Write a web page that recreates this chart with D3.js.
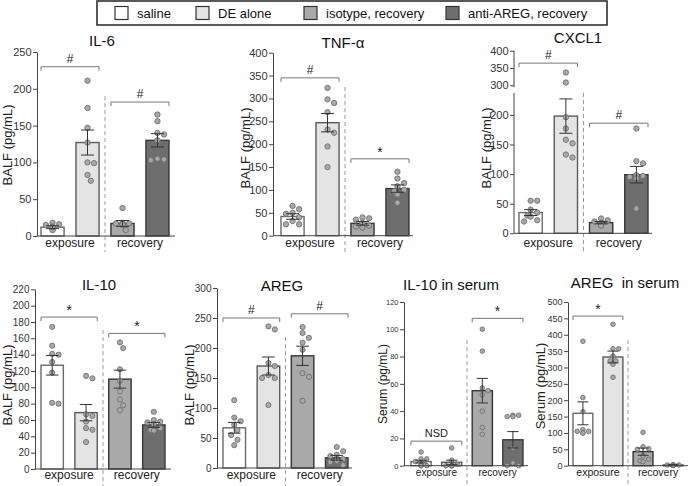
<!DOCTYPE html>
<html><head><meta charset="utf-8">
<script src="https://cdn.jsdelivr.net/npm/d3@7"></script>
<style>body{margin:0;background:#fff;} svg{display:block;font-family:"Liberation Sans",Arial,sans-serif;}</style>
</head><body><svg id="c" width="690" height="486"></svg>
<script>
// ---------- DATA ----------
const groups = ["saline", "DE alone", "isotype, recovery", "anti-AREG, recovery"];
const periods = ["exposure", "recovery"];

const il6Ticks = [0, 50, 100, 150, 200, 250];
const il6Means = [12, 127, 17, 130];
const il6Sems = [2, 17, 4, 9];
const il6Points = [[18, 15, 13, 11, 9, 8, 12, 16], [211, 174, 147, 127, 100, 99, 83, 75], [38, 18, 17, 16, 15, 8, 17, 16], [165, 156, 140, 138, 130, 104, 105, 103]];
const il6Sig = [{a: 0, b: 1, v: 230, t: "#"}, {a: 2, b: 3, v: 182, t: "#"}];

const tnfTicks = [0, 50, 100, 150, 200, 250, 300, 350, 400];
const tnfMeans = [42, 247, 27, 103];
const tnfSems = [6, 20, 4, 8];
const tnfPoints = [[65, 58, 50, 48, 40, 32, 25, 25], [323, 298, 290, 270, 232, 225, 195, 150], [40, 38, 35, 28, 22, 20, 18, 18], [140, 125, 115, 108, 100, 97, 90, 72]];
const tnfSig = [{a: 0, b: 1, v: 345, t: "#"}, {a: 2, b: 3, v: 168, t: "*"}];

const cxclTicks = [0, 50, 100, 150, 200, 300, 350, 400];
const cxclMeans = [35, 198, 18, 99];
const cxclSems = [5, 29, 2, 14];
const cxclPoints = [[55, 55, 40, 35, 30, 28, 20, 22], [337, 308, 196, 177, 158, 152, 133, 128], [25, 22, 20, 18, 17, 16, 15, 13], [177, 122, 118, 98, 97, 95, 93, 42]];
const cxclSig = [{a: 0, b: 1, v: 364, t: "#"}, {a: 2, b: 3, v: 186, t: "#"}];

const il10Ticks = [0, 20, 40, 60, 80, 100, 120, 140, 160, 180, 200, 220];
const il10Means = [127, 69, 110, 54];
const il10Sems = [12, 10, 11, 3];
const il10Points = [[174, 151, 140, 141, 131, 118, 80, 81], [114, 111, 67, 65, 58, 50, 48, 33], [155, 148, 122, 108, 95, 85, 78, 72], [70, 60, 58, 57, 55, 50, 48, 47]];
const il10Sig = [{a: 0, b: 1, v: 186, t: "*"}, {a: 2, b: 3, v: 166, t: "*"}];

const aregTicks = [0, 50, 100, 150, 200, 250, 300];
const aregMeans = [67, 170, 187, 17];
const aregSems = [9, 15, 16, 4];
const aregPoints = [[113, 84, 78, 72, 63, 55, 47, 38], [236, 231, 175, 170, 155, 150, 150, 105], [235, 225, 217, 209, 197, 158, 152, 112], [35, 28, 22, 20, 15, 12, 10, 5]];
const aregSig = [{a: 0, b: 1, v: 250, t: "#"}, {a: 2, b: 3, v: 257, t: "#"}];

const il10sTicks = [0, 20, 40, 60, 80, 100, 120];
const il10sMeans = [3, 2.5, 55, 19];
const il10sSems = [1, 1.5, 9, 6];
const il10sPoints = [[10, 5, 5, 3, 1, 0, 0, 0], [13, 4, 1, 0, 0, 0, 0, 0], [100, 84, 57, 55, 52, 40, 28, 23], [37, 37, 36, 36, 13, 2, 0, 0]];
const il10sSig = [{a: 0, b: 1, v: 18, t: "NSD"}, {a: 2, b: 3, v: 108, t: "*"}];

const aregsTicks = [0, 50, 100, 150, 200, 250, 300, 350, 400, 450, 500];
const aregsMeans = [160, 332, 43, 2];
const aregsSems = [35, 18, 11, 1];
const aregsPoints = [[380, 208, 165, 110, 105, 100, 100, 105], [432, 357, 357, 335, 320, 320, 310, 270], [102, 58, 52, 50, 30, 20, 15, 12], [3, 2, 2, 2, 1, 1, 1, 1]];
const aregsSig = [{a: 0, b: 1, v: 457, t: "*"}];

// ---------- STYLE ----------
const barFill = ["#ffffff", "#e4e4e4", "#a9a9a9", "#6e6e6e"];
const barStroke = ["#6a6a6a", "#5a5a5a", "#333333", "#3a3a3a"];

const svg = d3.select("#c");

// Legend
const leg = svg.append("g");
leg.append("rect").attr("x", 97).attr("y", 1).attr("width", 510).attr("height", 24)
  .attr("fill", "#fff").attr("stroke", "#222").attr("stroke-width", 1.5);
const legX = [115, 196, 304, 446];
groups.forEach((g, i) => {
  leg.append("rect").attr("x", legX[i]).attr("y", 6.5).attr("width", 13).attr("height", 13)
    .attr("fill", barFill[i]).attr("stroke", "#333").attr("stroke-width", 1.2);
  leg.append("text").attr("x", legX[i] + 22).attr("y", 18).attr("font-size", 13).attr("fill", "#111").text(g);
});

const panels = [
  {title: "IL-6", ylab: "BALF (pg/mL)", ticks: il6Ticks, means: il6Means, sems: il6Sems, pts: il6Points, sig: il6Sig,
   ax: 37, axEnd: 175, bx: [41, 169], dom: [0, 250], rng: [236, 52], divTop: 190, divBot: 252,
   tx: 102, ty: 46, yl: [9, 145], tfs: 11, xfs: 12, xly: 247, r: 2.7},
  {title: "TNF-α", ylab: "BALF (pg/mL)", ticks: tnfTicks, means: tnfMeans, sems: tnfSems, pts: tnfPoints, sig: tnfSig,
   ax: 273, axEnd: 413, bx: [281, 409], dom: [0, 400], rng: [235.7, 52.7], divTop: 325, divBot: 252,
   tx: 343, ty: 48, yl: [247, 148], tfs: 11, xfs: 12, xly: 247, r: 2.7},
  {title: "CXCL1", ylab: "BALF (pg/mL)", ticks: cxclTicks, means: cxclMeans, sems: cxclSems, pts: cxclPoints, sig: cxclSig,
   ax: 514, axEnd: 652, bx: [519, 648], dom: [0, 237, 300, 400], rng: [233.3, 93, 85.3, 50.7], divTop: 237, divBot: 252,
   tx: 578, ty: 43, yl: [488, 148], tfs: 11, xfs: 12, xly: 247, r: 2.7, broken: true},
  {title: "IL-10", ylab: "BALF (pg/mL)", ticks: il10Ticks, means: il10Means, sems: il10Sems, pts: il10Points, sig: il10Sig,
   ax: 35, axEnd: 171, bx: [41, 165], dom: [0, 220], rng: [469, 289.3], divTop: 170, divBot: 486,
   tx: 99, ty: 290, yl: [9, 385], tfs: 10, xfs: 12, xly: 479, r: 2.6},
  {title: "AREG", ylab: "BALF (pg/mL)", ticks: aregTicks, means: aregMeans, sems: aregSems, pts: aregPoints, sig: aregSig,
   ax: 217, axEnd: 352, bx: [223, 348], dom: [0, 300], rng: [468, 288], divTop: 218, divBot: 486,
   tx: 282, ty: 291, yl: [191, 385], tfs: 10, xfs: 12, xly: 479, r: 2.6},
  {title: "IL-10 in serum", ylab: "Serum (pg/mL)", ticks: il10sTicks, means: il10sMeans, sems: il10sSems, pts: il10sPoints, sig: il10sSig,
   ax: 404, axEnd: 528, bx: [411, 523], dom: [0, 120], rng: [465.7, 302], divTop: 92, divBot: 486,
   tx: 451, ty: 290, yl: [384, 384], ylfs: 12, tfs: 7.5, xfs: 10, xly: 476, r: 2.3},
  {title: "AREG  in serum", ylab: "Serum (pg/mL)", ticks: aregsTicks, means: aregsMeans, sems: aregsSems, pts: aregsPoints, sig: aregsSig,
   ax: 568, axEnd: 688, bx: [573, 683], dom: [0, 500], rng: [465.7, 302], divTop: 384, divBot: 486,
   tx: 625, ty: 288, yl: [542, 386], ylfs: 13, tfs: 9, xfs: 10.5, xly: 476, r: 2.3}
];

function beeswarm(vals, y, cx, r, maxOff) {
  const order = vals.map((v, i) => i).sort((a, b) => vals[b] - vals[a]);
  const placed = [];
  const out = new Array(vals.length);
  const d = 2 * r + 0.6;
  order.forEach(i => {
    const py = y(vals[i]);
    const cands = [0];
    for (let k = 1; k < 12; k++) { cands.push(k * d * 0.55, -k * d * 0.55); }
    let px = cx;
    for (const o of cands) {
      if (Math.abs(o) > maxOff) continue;
      const ok = placed.every(p => Math.hypot(p[0] - (cx + o), p[1] - py) >= d);
      if (ok) { px = cx + o; break; }
    }
    placed.push([px, py]);
    out[i] = [px, py];
  });
  return out;
}

panels.forEach(P => {
  const g = svg.append("g");
  const y = d3.scaleLinear().domain(P.dom).range(P.rng);
  const x = d3.scaleBand().domain(groups).range(P.bx).paddingInner(0.34).paddingOuter(0);
  const y0 = P.rng[0];

  // divider
  const xm = (x(groups[1]) + x.bandwidth() + x(groups[2])) / 2;
  g.append("line").attr("x1", xm).attr("x2", xm).attr("y1", y(P.divTop)).attr("y2", P.divBot)
    .attr("stroke", "#9a9a9a").attr("stroke-width", 1).attr("stroke-dasharray", "4,3");

  // bars
  groups.forEach((gr, i) => {
    g.append("rect").attr("x", x(gr)).attr("y", y(P.means[i])).attr("width", x.bandwidth())
      .attr("height", y0 - y(P.means[i])).attr("fill", barFill[i]).attr("stroke", barStroke[i]).attr("stroke-width", 1.4);
  });

  // points
  groups.forEach((gr, i) => {
    const cx = x(gr) + x.bandwidth() / 2;
    const pos = beeswarm(P.pts[i], y, cx, P.r, x.bandwidth() / 2 - P.r);
    g.selectAll(null).data(pos).enter().append("circle")
      .attr("cx", d => d[0]).attr("cy", d => d[1]).attr("r", P.r)
      .attr("fill", "#a8a8a8").attr("stroke", "#6a6a6a").attr("stroke-width", 0.8);
  });

  // error bars
  groups.forEach((gr, i) => {
    const cx = x(gr) + x.bandwidth() / 2;
    const lo = Math.max(0, P.means[i] - P.sems[i]), hi = P.means[i] + P.sems[i];
    const cw = x.bandwidth() * 0.28;
    g.append("line").attr("x1", cx).attr("x2", cx).attr("y1", y(lo)).attr("y2", y(hi)).attr("stroke", "#333").attr("stroke-width", 1);
    [lo, hi].forEach(v => g.append("line").attr("x1", cx - cw).attr("x2", cx + cw).attr("y1", y(v)).attr("y2", y(v)).attr("stroke", "#333").attr("stroke-width", 1));
  });

  // y axis
  const axis = d3.axisLeft(y).tickValues(P.ticks).tickSize(4).tickSizeOuter(0).tickPadding(1.5).tickFormat(d3.format("d"));
  const ag = g.append("g").attr("transform", `translate(${P.ax},0)`).call(axis);
  ag.selectAll("text").attr("font-size", P.tfs).attr("fill", "#333").attr("font-family", '"Liberation Sans",Arial,sans-serif');
  ag.selectAll("line").attr("stroke", "#444");
  if (P.broken) {
    ag.select(".domain").remove();
    ag.append("line").attr("x1", 0).attr("x2", 0).attr("y1", y(400)).attr("y2", y(300) + 2).attr("stroke", "#444");
    ag.append("line").attr("x1", 0).attr("x2", 0).attr("y1", y(237)).attr("y2", y(0)).attr("stroke", "#444");
  } else {
    ag.select(".domain").attr("stroke", "#444");
  }
  // x axis line
  g.append("line").attr("x1", P.ax).attr("x2", P.axEnd).attr("y1", y0).attr("y2", y0).attr("stroke", "#444").attr("stroke-width", 1);

  // x labels
  periods.forEach((p, k) => {
    const a = groups[2 * k], b = groups[2 * k + 1];
    const cx = (x(a) + x(b) + x.bandwidth()) / 2;
    g.append("text").attr("x", cx).attr("y", P.xly).attr("text-anchor", "middle").attr("font-size", P.xfs).attr("fill", "#222").text(p);
  });

  // title
  g.append("text").attr("x", P.tx).attr("y", P.ty).attr("text-anchor", "middle").attr("font-size", 15)
    .attr("fill", "#111").style("white-space", "pre").text(P.title);

  // y label
  g.append("text").attr("transform", `translate(${P.yl[0]},${P.yl[1]}) rotate(-90)`).attr("text-anchor", "middle")
    .attr("dominant-baseline", "middle").attr("font-size", P.ylfs || 13).attr("fill", "#222").text(P.ylab);

  // significance
  P.sig.forEach(s => {
    const x1 = x(groups[s.a]), x2 = x(groups[s.b]) + x.bandwidth();
    const yy = y(s.v);
    g.append("path").attr("d", `M${x1},${yy + 4}V${yy}H${x2}V${yy + 4}`).attr("fill", "none").attr("stroke", "#777").attr("stroke-width", 1);
    const isNSD = s.t === "NSD";
    g.append("text").attr("x", (x1 + x2) / 2).attr("y", s.t === "*" ? yy - 2 : yy - 4)
      .attr("text-anchor", "middle").attr("font-size", isNSD ? 11 : (s.t === "*" ? 14 : 12)).attr("fill", "#222").text(s.t);
  });
});
</script>
</body></html>
